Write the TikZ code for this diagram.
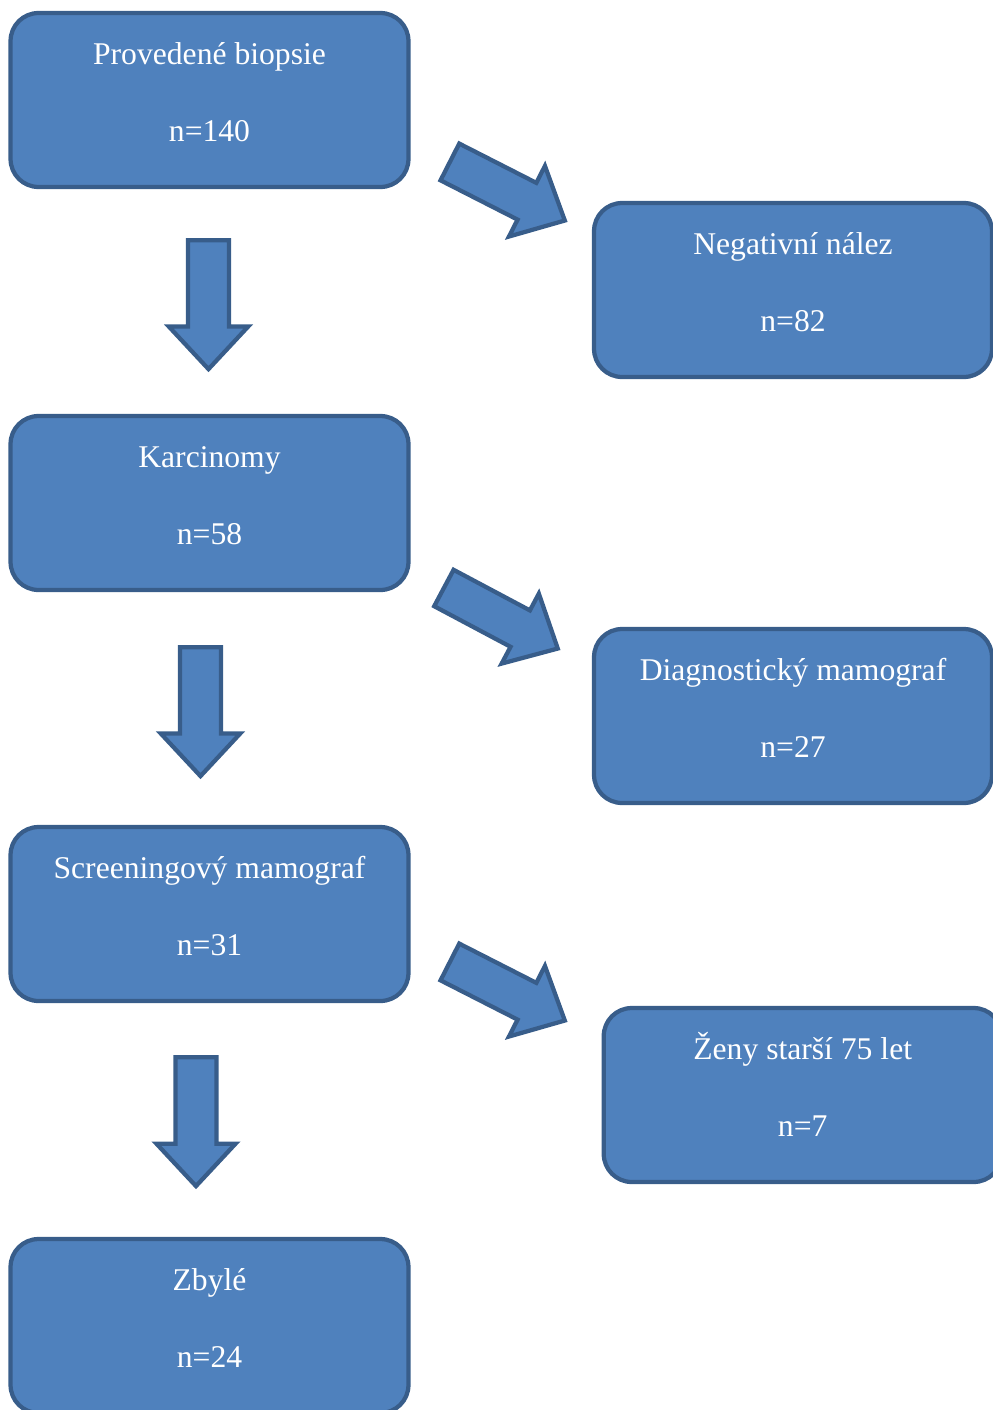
\documentclass[tikz,border=0pt]{standalone}
\usepackage{fontspec}
\setmainfont{Liberation Serif}
\usetikzlibrary{shapes.arrows}

\definecolor{boxfill}{HTML}{4F81BD}
\definecolor{boxline}{HTML}{385D8A}

\tikzset{
  box/.style={draw=boxline, fill=boxfill, line width=0.085cm, rounded corners=0.56cm,
    minimum width=7.96cm, minimum height=3.48cm, inner sep=0},
  boxtext/.style={text=white, font=\fontsize{18}{21.6}\selectfont, anchor=base, inner sep=0},
  bigarrow/.style={single arrow, draw=boxline, fill=boxfill, line width=0.085cm,
    minimum height=2.58cm, inner xsep=0, inner ysep=0.37cm,
    single arrow head extend=0.38cm, single arrow tip angle=86,
    single arrow head indent=0, anchor=tail},
}

\begin{document}
\begin{tikzpicture}[x=0.02cm, y=-0.02cm]
  \useasboundingbox (0,0) rectangle (992,1410);

  % left column
  \node[box] (biopsie) at (209.5,100) {};
  \node[boxtext] (biopsie-t) at ([yshift=-1.07cm]biopsie.north) {Provedené biopsie};
  \node[boxtext] (biopsie-n) at ([yshift=-2.61cm]biopsie.north) {n=140};

  \node[box] (karcinomy) at (209.5,503) {};
  \node[boxtext] (karcinomy-t) at ([yshift=-1.07cm]karcinomy.north) {Karcinomy};
  \node[boxtext] (karcinomy-n) at ([yshift=-2.61cm]karcinomy.north) {n=58};

  \node[box] (screening) at (209.5,914) {};
  \node[boxtext] (screening-t) at ([yshift=-1.07cm]screening.north) {Screeningový mamograf};
  \node[boxtext] (screening-n) at ([yshift=-2.61cm]screening.north) {n=31};

  \node[box] (zbyle) at (209.5,1326) {};
  \node[boxtext] (zbyle-t) at ([yshift=-1.07cm]zbyle.north) {Zbylé};
  \node[boxtext] (zbyle-n) at ([yshift=-2.61cm]zbyle.north) {n=24};

  % right column
  \node[box] (negativni) at (793,290) {};
  \node[boxtext] (negativni-t) at ([yshift=-1.07cm]negativni.north) {Negativní nález};
  \node[boxtext] (negativni-n) at ([yshift=-2.61cm]negativni.north) {n=82};

  \node[box] (diagnosticky) at (793,716) {};
  \node[boxtext] (diagnosticky-t) at ([yshift=-1.07cm]diagnosticky.north) {Diagnostický mamograf};
  \node[boxtext] (diagnosticky-n) at ([yshift=-2.61cm]diagnosticky.north) {n=27};

  \node[box] (zeny) at (802.7,1095) {};
  \node[boxtext] (zeny-t) at ([yshift=-1.07cm]zeny.north) {Ženy starší 75 let};
  \node[boxtext] (zeny-n) at ([yshift=-2.61cm]zeny.north) {n=7};

  % arrows down
  \node[bigarrow, rotate=-90] (down1) at (208.5,238) {};
  \node[bigarrow, rotate=-90] (down2) at (200.5,645) {};
  \node[bigarrow, rotate=-90] (down3) at (196,1055) {};

  % arrows to the right
  \node[bigarrow, rotate=-27] (side1) at (448,161) {};
  \node[bigarrow, rotate=-28] (side2) at (442,587) {};
  \node[bigarrow, rotate=-27] (side3) at (448,961) {};
\end{tikzpicture}
\end{document}
